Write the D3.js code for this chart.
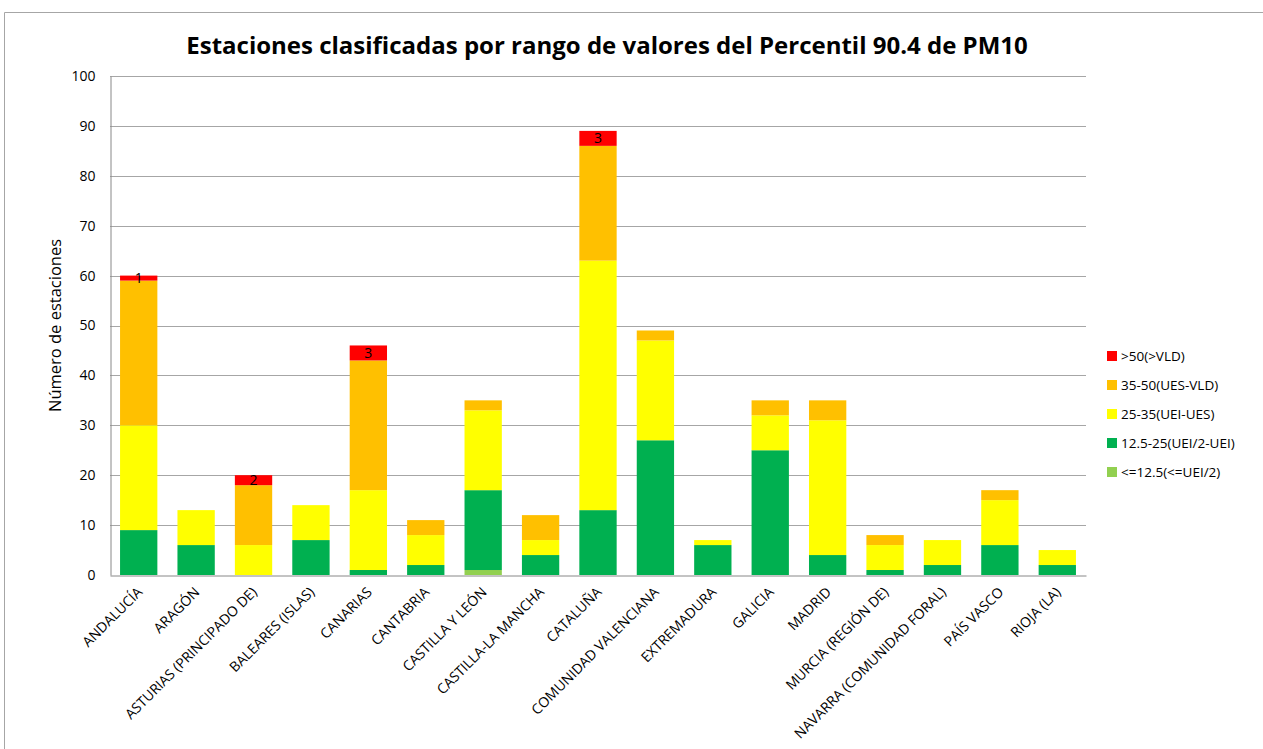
<!DOCTYPE html>
<html>
<head>
<meta charset="utf-8">
<script src="https://cdn.jsdelivr.net/npm/d3@7"></script>
<style>
  body { margin: 0; background: #fff; }
  text { font-family: "Open Sans", "DejaVu Sans", sans-serif; }
</style>
</head>
<body>
<script>
// Data
const regions = ['ANDALUCÍA', 'ARAGÓN', 'ASTURIAS (PRINCIPADO DE)', 'BALEARES (ISLAS)', 'CANARIAS',
  'CANTABRIA', 'CASTILLA Y LEÓN', 'CASTILLA-LA MANCHA', 'CATALUÑA', 'COMUNIDAD VALENCIANA',
  'EXTREMADURA', 'GALICIA', 'MADRID', 'MURCIA (REGIÓN DE)', 'NAVARRA (COMUNIDAD FORAL)',
  'PAÍS VASCO', 'RIOJA (LA)']
const le125  = [0, 0, 0, 0, 0, 0, 1, 0, 0, 0, 0, 0, 0, 0, 0, 0, 0]
const r125_25 = [9, 6, 0, 7, 1, 2, 16, 4, 13, 27, 6, 25, 4, 1, 2, 6, 2]
const r25_35 = [21, 7, 6, 7, 16, 6, 16, 3, 50, 20, 1, 7, 27, 5, 5, 9, 3]
const r35_50 = [29, 0, 12, 0, 26, 3, 2, 5, 23, 2, 0, 3, 4, 2, 0, 2, 0]
const gt50   = [1, 0, 2, 0, 3, 0, 0, 0, 3, 0, 0, 0, 0, 0, 0, 0, 0]
const yTicks = [0, 10, 20, 30, 40, 50, 60, 70, 80, 90, 100]

const seriesNames = ['<=12.5(<=UEI/2)', '12.5-25(UEI/2-UEI)', '25-35(UEI-UES)', '35-50(UES-VLD)', '>50(>VLD)']
const seriesColors = ['#92D050', '#00B050', '#FFFF00', '#FFC000', '#FF0000']
const seriesValues = [le125, r125_25, r25_35, r35_50, gt50]

const w = 1263
const h = 749
const pLeft = 110, pRight = 1086, pTop = 76, pBottom = 575

const svg = d3.select('body').append('svg')
  .attr('width', w).attr('height', h)

// Frame
svg.append('path')
  .attr('d', `M4.5,${h} L4.5,12.5 L${w},12.5`)
  .attr('fill', 'none').attr('stroke', '#a6a6a6').attr('stroke-width', 1)

// Title
svg.append('text')
  .attr('x', 607).attr('y', 54)
  .attr('text-anchor', 'middle')
  .style('font-size', '24px').style('font-weight', 'bold')
  .text('Estaciones clasificadas por rango de valores del Percentil 90.4 de PM10')

// Table for stacking
const table = regions.map((r, i) => {
  const o = { region: r }
  seriesNames.forEach((s, k) => { o[s] = seriesValues[k][i] })
  return o
})
const stack = d3.stack().keys(seriesNames)(table)

const xScale = d3.scaleBand().domain(regions).range([pLeft, pRight]).paddingInner(0.35).paddingOuter(0.175)
const yScale = d3.scaleLinear().domain([0, 100]).range([pBottom, pTop])

// Gridlines
svg.append('g').selectAll('line').data(yTicks.slice(1)).enter().append('line')
  .attr('x1', pLeft).attr('x2', pRight)
  .attr('y1', d => Math.round(yScale(d)) + 0.5).attr('y2', d => Math.round(yScale(d)) + 0.5)
  .attr('stroke', '#a6a6a6')

// Bars
svg.append('g').selectAll('g').data(stack).enter().append('g')
  .attr('fill', (d, i) => seriesColors[i])
  .selectAll('rect').data(d => d).enter().append('rect')
  .attr('x', d => xScale(d.data.region))
  .attr('width', xScale.bandwidth())
  .attr('y', d => yScale(d[1]))
  .attr('height', d => yScale(d[0]) - yScale(d[1]))

// Red data labels
svg.append('g').selectAll('text').data(stack[4].filter(d => d[1] > d[0])).enter().append('text')
  .attr('x', d => xScale(d.data.region) + xScale.bandwidth() / 2)
  .attr('y', d => (yScale(d[0]) + yScale(d[1])) / 2 + 5)
  .attr('text-anchor', 'middle')
  .style('font-size', '14px')
  .text(d => d[1] - d[0])

// Axes
const yAxis = d3.axisLeft(yScale).tickValues(yTicks).tickSize(0).tickPadding(15)
const gy = svg.append('g').attr('transform', `translate(${pLeft + 0.5},0)`).call(yAxis)
gy.select('.domain').attr('stroke', '#888')
gy.selectAll('text').style('font-size', '14px').attr('fill', '#000')

const xAxis = d3.axisBottom(xScale).tickSize(0)
const gx = svg.append('g').attr('transform', `translate(0,${pBottom + 0.5})`).call(xAxis)
gx.select('.domain').attr('stroke', '#888')
gx.selectAll('text')
  .style('font-size', '14px').attr('fill', '#000')
  .attr('text-anchor', 'end')
  .attr('dy', '0.35em')
  .attr('y', 0)
  .attr('transform', 'translate(1,14) rotate(-45)')

// Y axis title
svg.append('text')
  .attr('transform', `translate(61,${(pTop + pBottom) / 2}) rotate(-90)`)
  .attr('text-anchor', 'middle')
  .style('font-size', '16.5px')
  .text('Número de estaciones')

// Legend
const legend = svg.append('g').attr('transform', 'translate(1107,356)')
const legendOrder = [4, 3, 2, 1, 0]
legendOrder.forEach((k, i) => {
  legend.append('rect')
    .attr('x', 0).attr('y', i * 29 - 5)
    .attr('width', 10).attr('height', 10)
    .attr('fill', seriesColors[k])
  legend.append('text')
    .attr('x', 14).attr('y', i * 29 + 5)
    .style('font-size', '13.5px')
    .text(seriesNames[k])
})
</script>
</body>
</html>
